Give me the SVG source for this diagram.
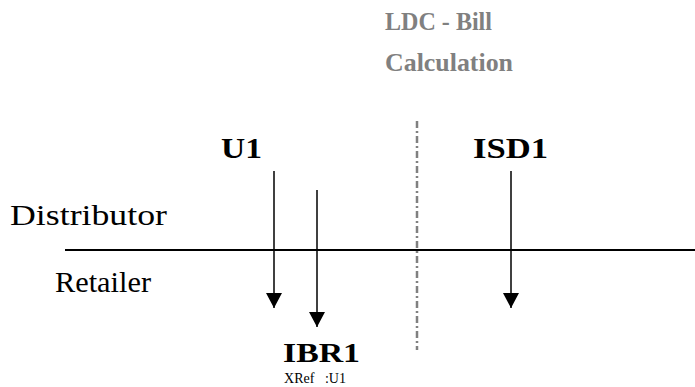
<svg xmlns="http://www.w3.org/2000/svg" width="695" height="387" viewBox="0 0 695 387">
<style>
text{font-family:"Liberation Serif","Times New Roman",serif;fill:#000}
.b{font-weight:bold}
.g{fill:#808080}
.ln{stroke:#000;stroke-width:1.5;fill:none}
</style>
<defs>
<marker id="ah" viewBox="0 0 15 16" refX="15" refY="8" markerWidth="15" markerHeight="16" markerUnits="userSpaceOnUse" orient="auto">
<path d="M0,0 L15,8 L0,16 Z" fill="#000"/>
</marker>
</defs>
<rect width="695" height="387" fill="#fff"/>
<g id="title">
<text class="b g" x="385" y="30" font-size="25" textLength="107" lengthAdjust="spacingAndGlyphs">LDC - Bill</text>
<text class="b g" x="385" y="71" font-size="25" textLength="128" lengthAdjust="spacingAndGlyphs">Calculation</text>
</g>
<g id="lanes">
<text x="10" y="225" font-size="29" textLength="157" lengthAdjust="spacingAndGlyphs">Distributor</text>
<text x="55" y="292" font-size="29" textLength="96" lengthAdjust="spacingAndGlyphs">Retailer</text>
</g>
<g id="connectors">
<line x1="65" y1="250" x2="695" y2="250" stroke="#000" stroke-width="2"/>
<line x1="417" y1="121" x2="417" y2="350" stroke="#808080" stroke-width="2.5" stroke-dasharray="7,3,2,3"/>
<line class="ln" x1="274" y1="171" x2="274" y2="308" marker-end="url(#ah)"/>
<line class="ln" x1="317" y1="190" x2="317" y2="327" marker-end="url(#ah)"/>
<line class="ln" x1="511" y1="171" x2="511" y2="308" marker-end="url(#ah)"/>
</g>
<g id="U1"><text class="b" x="221" y="158" font-size="29" textLength="41" lengthAdjust="spacingAndGlyphs">U1</text></g>
<g id="ISD1"><text class="b" x="473" y="158" font-size="29" textLength="75" lengthAdjust="spacingAndGlyphs">ISD1</text></g>
<g id="IBR1">
<text class="b" x="283" y="362" font-size="27" textLength="77" lengthAdjust="spacingAndGlyphs">IBR1</text>
<text x="284" y="383" font-size="14" textLength="62" lengthAdjust="spacingAndGlyphs" xml:space="preserve">XRef   :U1</text>
</g>
</svg>
